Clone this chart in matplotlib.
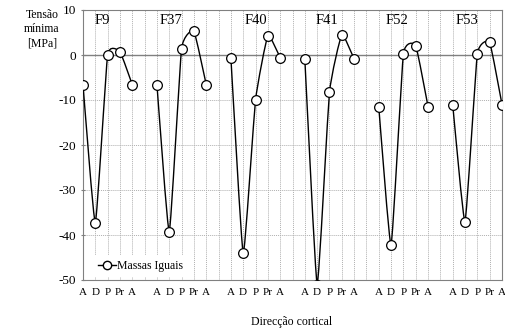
import numpy as np
import matplotlib
matplotlib.use("Agg")
import matplotlib.pyplot as plt
from matplotlib.path import Path
from matplotlib.patches import PathPatch
from matplotlib.lines import Line2D

plt.rcParams["font.family"] = ["Liberation Serif", "DejaVu Serif"]
plt.rcParams["axes.unicode_minus"] = False

groups = ["F9", "F37", "F40", "F41", "F52", "F53"]
directions = ["A", "D", "P", "Pr", "A"]
tensao = [
    [-6.6, -37.3, 0.0, 0.7, -6.6],
    [-6.6, -39.3, 1.4, 5.3, -6.6],
    [-0.6, -44.1, -10.0, 4.3, -0.6],
    [-0.9, -51.0, -8.3, 4.5, -0.9],
    [-11.5, -42.2, 0.2, 2.1, -11.5],
    [-11.0, -37.0, 0.2, 2.8, -11.0],
]
label_pos = [1.55, 7.1, 14.0, 19.8, 25.5, 31.2]

fig = plt.figure(figsize=(5.05, 3.33), dpi=100)
ax = fig.add_axes([83 / 505, 1 - 280 / 333, 419 / 505, 270 / 333])

step = len(directions) + 1
n_cat = len(groups) * step - 1
xticks = list(range(n_cat))
xlabels = []
for g in range(len(groups)):
    xlabels += directions
    if g < len(groups) - 1:
        xlabels.append("")


def smooth_path(x, y, k=0.4):
    # lightly smoothed line through the points (cubic Bezier segments)
    pts = np.column_stack([x, y])
    ext = np.vstack([pts[0], pts, pts[-1]])
    verts = [pts[0]]
    codes = [Path.MOVETO]
    for i in range(len(pts) - 1):
        p0, p1, p2, p3 = ext[i], ext[i + 1], ext[i + 2], ext[i + 3]
        verts += [p1 + k * (p2 - p0) / 6, p2 - k * (p3 - p1) / 6, p2]
        codes += [Path.CURVE4] * 3
    return Path(verts, codes)


for g, vals in enumerate(tensao):
    xs = np.arange(len(vals)) + g * step
    ax.add_patch(PathPatch(smooth_path(xs, vals), fill=False, edgecolor="black",
                           lw=1.0, zorder=3))
    ax.plot(xs, vals, linestyle="none", marker="o", ms=7, mfc="white",
            mec="black", mew=0.9, zorder=4)
    ax.text(label_pos[g], 7.6, groups[g], ha="center", va="center", fontsize=10.5)

ax.set_xlim(0, n_cat - 1)
ax.set_ylim(-50, 10)
ax.set_yticks(range(-50, 11, 10))
ax.set_xticks(xticks)
ax.set_xticklabels(xlabels, fontsize=8)
ax.tick_params(axis="x", length=0, pad=6)
ax.tick_params(axis="y", labelsize=9.5, length=3, color="#808080", direction="inout")
ax.grid(True, color="#b0b0b0", linestyle=(0, (1, 1)), linewidth=0.7)
ax.set_axisbelow(True)
ax.axhline(0, color="#808080", lw=1.0, zorder=2)
for s in ax.spines.values():
    s.set_color("#808080")

leg = ax.legend(handles=[Line2D([], [], color="black", lw=1.0, marker="o", ms=6,
                                mfc="white", mec="black")],
                labels=["Massas Iguais"], loc="lower left",
                bbox_to_anchor=(0.01, -0.01), frameon=True, fontsize=8.5,
                handlelength=1.5, handletextpad=0.1, borderpad=0.4)
leg.get_frame().set_edgecolor("none")
leg.get_frame().set_facecolor("white")
leg.get_frame().set_alpha(1)

fig.text(42 / 505, 1 - 29 / 333, "Tensão\nmínima\n[MPa]", ha="center", va="center",
         fontsize=8.5, linespacing=1.25)
fig.text(292 / 505, 1 - 322 / 333, "Direcção cortical", ha="center", va="center",
         fontsize=8.5)

fig.savefig("out.png", dpi=100)
